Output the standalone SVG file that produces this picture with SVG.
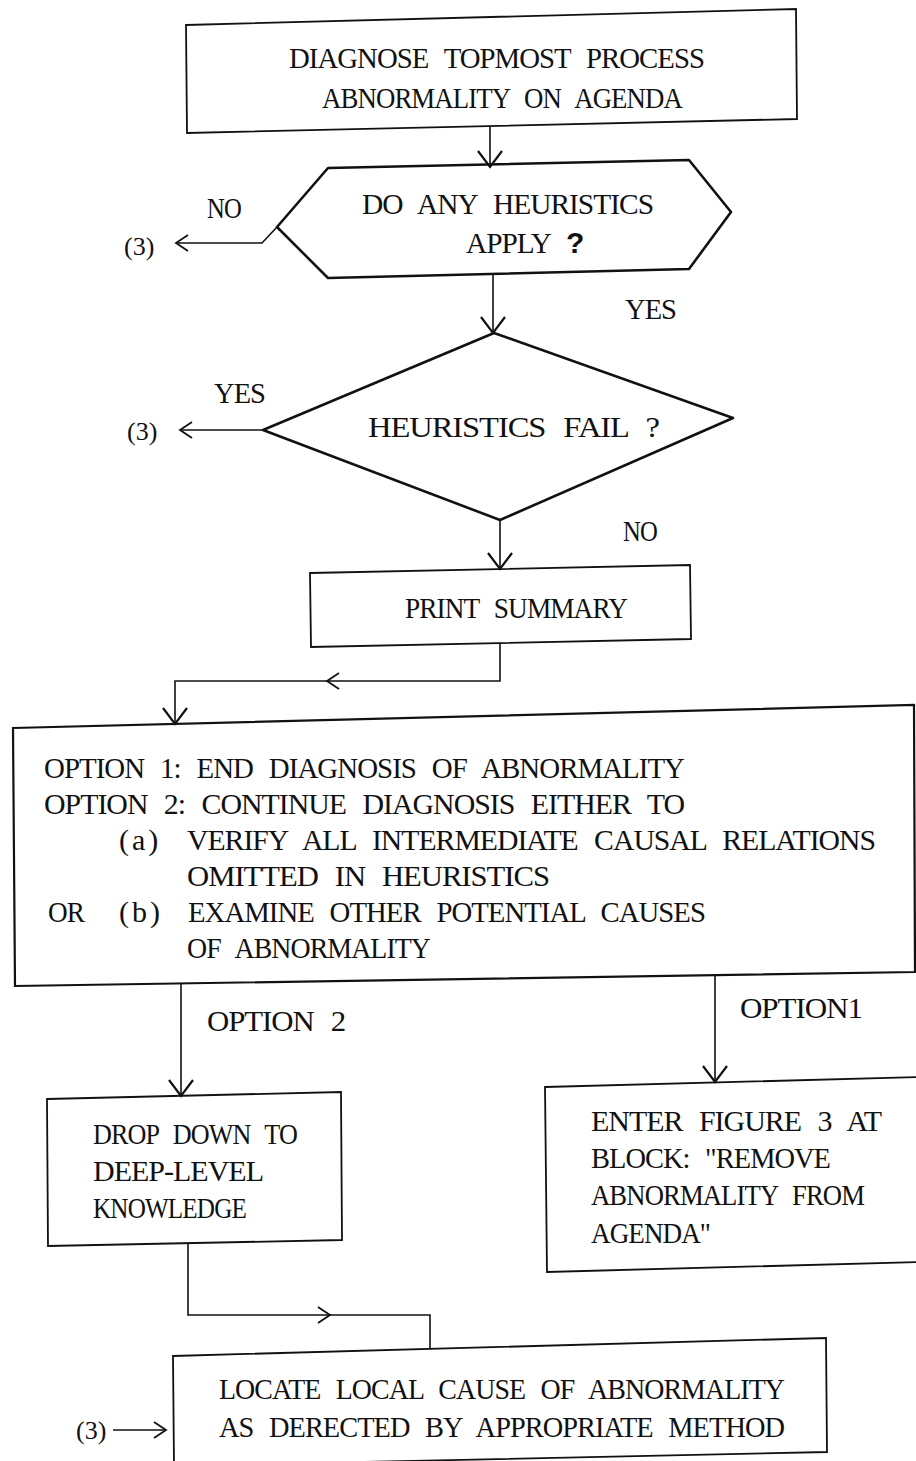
<svg xmlns="http://www.w3.org/2000/svg" width="916" height="1461" viewBox="0 0 916 1461">
<style>
.bg{fill:#fff}
.box{fill:none;stroke:#111;stroke-width:1.8;stroke-linejoin:miter}
.shape{fill:none;stroke:#111;stroke-width:2.6;stroke-linejoin:round}
.con{fill:none;stroke:#111;stroke-width:1.6}
.t{font-family:"Liberation Serif","DejaVu Serif",serif;font-size:30px;word-spacing:10px;letter-spacing:-1px;fill:#111}
.p{letter-spacing:3px}
.n{font-family:"Liberation Serif","DejaVu Serif",serif;font-size:26px;fill:#111}
.q{font-family:"Liberation Sans","DejaVu Sans",sans-serif;font-size:30px;font-weight:bold;letter-spacing:0;fill:#111}
</style>
<defs>
<marker id="v" markerUnits="userSpaceOnUse" viewBox="-18 -14 20 28" refX="0" refY="0" markerWidth="20" markerHeight="28" orient="auto">
<path d="M-16,-12 L0,0 L-16,12" fill="none" stroke="#111" stroke-width="2.2"/>
</marker>
<marker id="s" markerUnits="userSpaceOnUse" viewBox="-14 -10 16 20" refX="0" refY="0" markerWidth="16" markerHeight="20" orient="auto">
<path d="M-12,-8 L0,0 L-12,8" fill="none" stroke="#111" stroke-width="1.8"/>
</marker>
</defs>
<rect class="bg" x="0" y="0" width="916" height="1461"/>

<g id="connectors">
<path class="con" d="M490,126 V167" marker-end="url(#v)"/>
<path class="con" d="M493,274 V333" marker-end="url(#v)"/>
<path class="con" d="M277,227 L262,243 H176" marker-end="url(#s)"/>
<path class="con" d="M263,430 H180" marker-end="url(#s)"/>
<path class="con" d="M500,520 V569" marker-end="url(#v)"/>
<path class="con" d="M500,643 V681 H327" marker-end="url(#s)"/>
<path class="con" d="M327,681 H175 V724" marker-end="url(#v)"/>
<path class="con" d="M181,983 V1096" marker-end="url(#v)"/>
<path class="con" d="M715,975 V1082" marker-end="url(#v)"/>
<path class="con" d="M188,1244 V1315 H330" marker-end="url(#s)"/>
<path class="con" d="M330,1315 H430 V1349"/>
<path class="con" d="M113,1430 H166" marker-end="url(#s)"/>
</g>

<g id="edge-labels">
<text class="t" x="207" y="218" textLength="34" lengthAdjust="spacingAndGlyphs">NO</text>
<text class="n" x="124" y="255">(3)</text>
<text class="t" x="625" y="319" textLength="51" lengthAdjust="spacingAndGlyphs">YES</text>
<text class="t" x="214" y="403" textLength="51" lengthAdjust="spacingAndGlyphs">YES</text>
<text class="n" x="127" y="440">(3)</text>
<text class="t" x="623" y="541" textLength="34" lengthAdjust="spacingAndGlyphs">NO</text>
<text class="t" x="207" y="1031" textLength="138" lengthAdjust="spacingAndGlyphs">OPTION 2</text>
<text class="t" x="740" y="1018" textLength="122" lengthAdjust="spacingAndGlyphs">OPTION1</text>
<text class="n" x="76" y="1439">(3)</text>
</g>

<g id="node-diagnose">
<polygon class="box" points="186,25 796,9 797,119 187,133"/>
<text class="t" x="289" y="68" textLength="415" lengthAdjust="spacingAndGlyphs">DIAGNOSE TOPMOST PROCESS</text>
<text class="t" x="322" y="108" textLength="360" lengthAdjust="spacingAndGlyphs">ABNORMALITY ON AGENDA</text>
</g>

<g id="node-heuristics-apply">
<polygon class="shape" points="328,168 689,160 731,212 689,269 328,278 277,227"/>
<text class="t" x="362" y="214" textLength="291" lengthAdjust="spacingAndGlyphs">DO ANY HEURISTICS</text>
<text class="t" x="466" y="253"><tspan textLength="84" lengthAdjust="spacingAndGlyphs">APPLY</tspan> <tspan class="q" x="566">?</tspan></text>
</g>

<g id="node-heuristics-fail">
<polygon class="shape" points="494,333 733,418 500,520 263,430"/>
<text class="t" x="368" y="437" textLength="291" lengthAdjust="spacingAndGlyphs">HEURISTICS FAIL ?</text>
</g>

<g id="node-print-summary">
<polygon class="box" points="310,573 690,565 691,639 311,647"/>
<text class="t" x="405" y="618" textLength="222" lengthAdjust="spacingAndGlyphs">PRINT SUMMARY</text>
</g>

<g id="node-options">
<polygon class="box" points="13,728 914,705 915,972 15,986" style="stroke-width:2.2"/>
<text class="t" x="44" y="778" textLength="640" lengthAdjust="spacingAndGlyphs">OPTION 1: END DIAGNOSIS OF ABNORMALITY</text>
<text class="t" x="44" y="814" textLength="640" lengthAdjust="spacingAndGlyphs">OPTION 2: CONTINUE DIAGNOSIS EITHER TO</text>
<text class="t" y="850"><tspan class="p" x="119">(a)</tspan> <tspan x="187" textLength="688" lengthAdjust="spacingAndGlyphs">VERIFY ALL INTERMEDIATE CAUSAL RELATIONS</tspan></text>
<text class="t" x="187" y="886" textLength="362" lengthAdjust="spacingAndGlyphs">OMITTED IN HEURISTICS</text>
<text class="t" y="922"><tspan x="48" textLength="36" lengthAdjust="spacingAndGlyphs">OR</tspan> <tspan class="p" x="119">(b)</tspan> <tspan x="188" textLength="517" lengthAdjust="spacingAndGlyphs">EXAMINE OTHER POTENTIAL CAUSES</tspan></text>
<text class="t" x="187" y="958" textLength="243" lengthAdjust="spacingAndGlyphs">OF ABNORMALITY</text>
</g>

<g id="node-drop-down">
<polygon class="box" points="47,1099 341,1092 342,1240 48,1246"/>
<text class="t" x="93" y="1144" textLength="204" lengthAdjust="spacingAndGlyphs">DROP DOWN TO</text>
<text class="t" x="93" y="1181" textLength="170" lengthAdjust="spacingAndGlyphs">DEEP-LEVEL</text>
<text class="t" x="93" y="1218" textLength="153" lengthAdjust="spacingAndGlyphs">KNOWLEDGE</text>
</g>

<g id="node-enter-figure">
<polygon class="box" points="545,1087 922,1077 922,1262 547,1272"/>
<text class="t" x="591" y="1131" textLength="290" lengthAdjust="spacingAndGlyphs">ENTER FIGURE 3 AT</text>
<text class="t" x="591" y="1168" textLength="239" lengthAdjust="spacingAndGlyphs">BLOCK: "REMOVE</text>
<text class="t" x="591" y="1205" textLength="273" lengthAdjust="spacingAndGlyphs">ABNORMALITY FROM</text>
<text class="t" x="591" y="1243" textLength="119" lengthAdjust="spacingAndGlyphs">AGENDA"</text>
</g>

<g id="node-locate">
<polygon class="box" points="173,1356 826,1338 827,1452 174,1466"/>
<text class="t" x="219" y="1399" textLength="565" lengthAdjust="spacingAndGlyphs">LOCATE LOCAL CAUSE OF ABNORMALITY</text>
<text class="t" x="219" y="1437" textLength="565" lengthAdjust="spacingAndGlyphs">AS DERECTED BY APPROPRIATE METHOD</text>
</g>
</svg>
